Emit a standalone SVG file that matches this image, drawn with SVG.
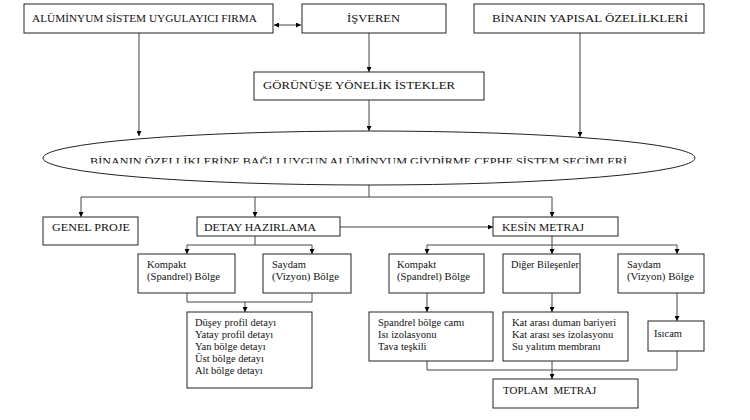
<svg xmlns="http://www.w3.org/2000/svg" width="750" height="420" viewBox="0 0 750 420">
<defs>
<marker id="ah" viewBox="0 0 10 10" refX="10" refY="5" markerWidth="5" markerHeight="5" orient="auto-start-reverse" markerUnits="userSpaceOnUse">
<path d="M0,0 L10,5 L0,10 z" fill="#000"/>
</marker>
<clipPath id="ec"><rect x="40" y="140" width="660" height="23.5"/></clipPath>
<style>
text{font-family:'Liberation Serif','Times New Roman',serif}
.b{fill:#fff;stroke:#222;stroke-width:1}
.t{font-size:11px;fill:#111}
.s{font-size:10.5px;fill:#111}
.c{fill:none;stroke:#444;stroke-width:1}
.a{marker-end:url(#ah)}
</style>
</defs>
<rect width="750" height="420" fill="#fff"/>

<g id="connectors">
<path class="c a" d="M139,33 V136"/>
<path class="c a" d="M369,33 V72"/>
<path class="c a" d="M369,100 V131"/>
<path class="c a" d="M580,33 V137"/>
<path class="c" d="M274,25 H301" marker-start="url(#ah)" marker-end="url(#ah)"/>
<path class="c" d="M369,185 V197 M81,197 H552"/>
<path class="c a" d="M81,197 V217"/>
<path class="c a" d="M255,197 V217"/>
<path class="c a" d="M552,197 V217"/>
<path class="c a" d="M340,227 H493"/>
<path class="c" d="M255,236 V245 M187,245 H312"/>
<path class="c a" d="M187,245 V254"/>
<path class="c a" d="M312,245 V254"/>
<path class="c" d="M187,293 V302 H312 V293"/>
<path class="c a" d="M245,302 V312"/>
<path class="c" d="M552,236 V245 M427,245 H677"/>
<path class="c a" d="M427,245 V254"/>
<path class="c a" d="M552,245 V254"/>
<path class="c a" d="M677,245 V254"/>
<path class="c a" d="M427,293 V312"/>
<path class="c a" d="M552,293 V312"/>
<path class="c a" d="M677,293 V321"/>
<path class="c" d="M427,361 V370 H677 V351"/>
<path class="c a" d="M552,361 V379"/>
</g>

<g id="firma"><rect class="b" x="24" y="4" width="249" height="29"/><text class="t" x="32" y="22" textLength="225" lengthAdjust="spacingAndGlyphs">ALÜMİNYUM SİSTEM UYGULAYICI FIRMA</text></g>
<g id="isveren"><rect class="b" x="302" y="4" width="144" height="29"/><text class="t" x="347" y="22" textLength="53" lengthAdjust="spacingAndGlyphs">İŞVEREN</text></g>
<g id="yapisal"><rect class="b" x="474" y="4" width="230" height="29"/><text class="t" x="492" y="22" textLength="196" lengthAdjust="spacingAndGlyphs">BİNANIN YAPISAL ÖZELİLKLERİ</text></g>
<g id="istekler"><rect class="b" x="254" y="72" width="230" height="28"/><text class="t" x="263" y="89" textLength="192" lengthAdjust="spacingAndGlyphs">GÖRÜNÜŞE YÖNELİK İSTEKLER</text></g>

<g id="secim"><ellipse cx="369" cy="158" rx="326" ry="27" fill="#fff" stroke="#222" stroke-width="1"/>
<text class="t" x="90" y="165" font-size="12" textLength="537" lengthAdjust="spacingAndGlyphs" clip-path="url(#ec)">BİNANIN ÖZELLİKLERİNE BAĞLI UYGUN ALÜMİNYUM GİYDİRME CEPHE SİSTEM SEÇİMLERİ</text></g>

<g id="genel"><rect class="b" x="43" y="217" width="95" height="28"/><text class="t" x="52" y="231" textLength="78" lengthAdjust="spacingAndGlyphs">GENEL PROJE</text></g>
<g id="detay"><rect class="b" x="197" y="217" width="143" height="19"/><text class="t" x="204" y="231" textLength="112" lengthAdjust="spacingAndGlyphs">DETAY HAZIRLAMA</text></g>
<g id="kesin"><rect class="b" x="493" y="217" width="125" height="19"/><text class="t" x="502" y="231" textLength="82" lengthAdjust="spacingAndGlyphs">KESİN METRAJ</text></g>

<g id="kompakt1"><rect class="b" x="138" y="254" width="97" height="39"/><text class="s" x="147" y="268">Kompakt</text><text class="s" x="147" y="280" textLength="73" lengthAdjust="spacingAndGlyphs">(Spandrel) Bölge</text></g>
<g id="saydam1"><rect class="b" x="263" y="254" width="88" height="39"/><text class="s" x="272" y="268">Saydam</text><text class="s" x="272" y="280" textLength="67" lengthAdjust="spacingAndGlyphs">(Vizyon) Bölge</text></g>
<g id="detaylar"><rect class="b" x="187" y="312" width="125" height="76"/>
<text class="s" x="195" y="326">Düşey profil detayı</text>
<text class="s" x="195" y="338">Yatay profil detayı</text>
<text class="s" x="195" y="350">Yan bölge detayı</text>
<text class="s" x="195" y="362">Üst bölge detayı</text>
<text class="s" x="195" y="374">Alt bölge detayı</text></g>

<g id="kompakt2"><rect class="b" x="389" y="254" width="95" height="39"/><text class="s" x="397" y="268">Kompakt</text><text class="s" x="397" y="280" textLength="73" lengthAdjust="spacingAndGlyphs">(Spandrel) Bölge</text></g>
<g id="diger"><rect class="b" x="503" y="254" width="77" height="39"/><text class="s" x="511" y="268" textLength="68" lengthAdjust="spacingAndGlyphs">Diğer Bileşenler</text></g>
<g id="saydam2"><rect class="b" x="618" y="254" width="86" height="39"/><text class="s" x="627" y="268">Saydam</text><text class="s" x="627" y="280" textLength="67" lengthAdjust="spacingAndGlyphs">(Vizyon) Bölge</text></g>
<g id="spandrel"><rect class="b" x="369" y="312" width="124" height="49"/>
<text class="s" x="378" y="326">Spandrel bölge camı</text>
<text class="s" x="378" y="338">Isı izolasyonu</text>
<text class="s" x="378" y="350">Tava teşkili</text></g>
<g id="katarasi"><rect class="b" x="503" y="312" width="125" height="49"/>
<text class="s" x="512" y="326">Kat arası duman bariyeri</text>
<text class="s" x="512" y="338">Kat arası ses izolasyonu</text>
<text class="s" x="512" y="350">Su yalıtım membranı</text></g>
<g id="isicam"><rect class="b" x="648" y="321" width="56" height="30"/><text class="s" x="654" y="337">Isıcam</text></g>
<g id="toplam"><rect class="b" x="493" y="379" width="145" height="29"/><text class="t" x="503" y="394" xml:space="preserve">TOPLAM  METRAJ</text></g>
</svg>
